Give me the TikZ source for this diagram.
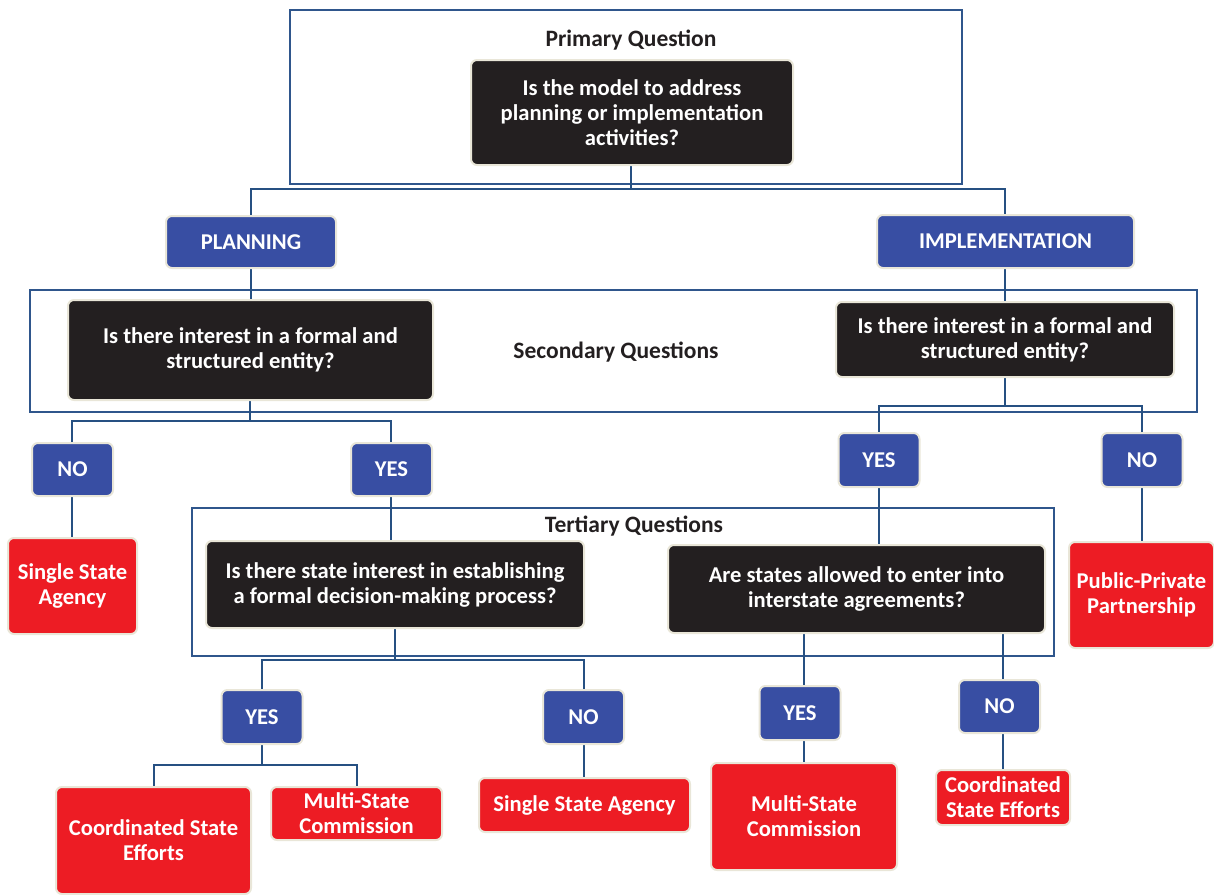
\documentclass[tikz,border=0pt]{standalone}
\usepackage{fontspec}
\setmainfont{Carlito}
\definecolor{qblack}{RGB}{35,31,32}
\definecolor{ablue}{RGB}{56,78,163}
\definecolor{rred}{RGB}{237,28,36}
\definecolor{edgec}{RGB}{233,230,216}
\definecolor{lineblue}{RGB}{38,80,130}
\definecolor{frameblue}{RGB}{47,86,140}
\begin{document}
\begin{tikzpicture}[x=1pt,y=-1pt,
  box/.style={rounded corners=6pt, draw=edgec, line width=2pt, text=white,
    font=\fontsize{22.6}{25}\selectfont\bfseries, align=center, inner sep=0pt},
  qbox/.style={box, fill=qblack},
  abox/.style={box, fill=ablue, minimum width=81pt, minimum height=54pt},
  rbox/.style={box, fill=rred},
  framebox/.style={draw=frameblue, line width=2pt, inner sep=0pt},
  lbl/.style={text=qblack, font=\fontsize{23.5}{25}\selectfont\bfseries, inner sep=0pt},
  conn/.style={draw=lineblue, line width=2.5pt}]
\useasboundingbox (0,0) rectangle (1214,894);

% frames
\node[framebox, minimum width=672pt, minimum height=174pt] (f1) at (626,97) {};
\node[framebox, minimum width=1167pt, minimum height=122pt] (f2) at (613.5,351) {};
\node[framebox, minimum width=862pt, minimum height=148pt] (f3) at (623,582) {};
\node[lbl] (l1) at (631,40) {Primary Question};
\node[lbl] (l2) at (616,352) {Secondary Questions};
\node[lbl] (l3) at (634,526) {Tertiary Questions};

% coordinates for junctions
\coordinate (j1) at (631,189);
\coordinate (j2) at (250,421);
\coordinate (j3) at (1005,406);
\coordinate (j4) at (395,660);
\coordinate (j5) at (262,765);

% connectors (drawn first; nodes cover ends)
\draw[conn] (631,165) -- (j1);
\draw[conn] (251,216) |- (j1) -| (1005,215);
\draw[conn] (251,268) -- (251,300);
\draw[conn] (1005,268) -- (1005,302);
\draw[conn] (250,400) -- (j2);
\draw[conn] (72,443) |- (j2) -| (391,443);
\draw[conn] (1005,377) -- (j3);
\draw[conn] (879,433) |- (j3) -| (1142,433);
\draw[conn] (72,496) -- (72,538);
\draw[conn] (391,496) -- (391,541);
\draw[conn] (879,487) -- (879,545);
\draw[conn] (1142,487) -- (1142,542);
\draw[conn] (395,628) -- (j4);
\draw[conn] (262,690) |- (j4) -| (584,690);
\draw[conn] (584,744) -- (584,778);
\draw[conn] (262,744) -- (j5);
\draw[conn] (154,787) |- (j5) -| (357,787);
\draw[conn] (804,633) -- (804,763);
\draw[conn] (1003,633) -- (1003,770);

% nodes
\node[qbox, minimum width=322pt, minimum height=105pt] (pq) at (632,112.5) {Is the model to address\\planning or implementation\\activities?};
\node[box, fill=ablue, minimum width=170pt, minimum height=52pt] (plan) at (251,242) {PLANNING};
\node[box, fill=ablue, minimum width=257pt, minimum height=53pt] (impl) at (1005.5,241.5) {IMPLEMENTATION};
\node[qbox, minimum width=365pt, minimum height=100pt] (sq1) at (250.5,350) {Is there interest in a formal and\\structured entity?};
\node[qbox, minimum width=338pt, minimum height=75pt] (sq2) at (1005,339.5) {Is there interest in a formal and\\structured entity?};
\node[abox, minimum height=53pt] (no1) at (72.5,469.5) {NO};
\node[abox, minimum height=53pt] (yes1) at (391.5,469.5) {YES};
\node[abox] (yes2) at (879,460) {YES};
\node[abox] (no2) at (1142,460) {NO};
\node[rbox, minimum width=129pt, minimum height=96pt] (ssa1) at (72.5,586) {Single State\\Agency};
\node[rbox, minimum width=145pt, minimum height=106pt] (ppp) at (1141.5,595) {Public-Private\\Partnership};
\node[qbox, minimum width=378pt, minimum height=87pt] (tq1) at (395,584.5) {Is there state interest in establishing\\a formal decision-making process?};
\node[qbox, minimum width=377pt, minimum height=88pt] (tq2) at (856.5,589) {Are states allowed to enter into\\interstate agreements?};
\node[abox] (yes3) at (262,717) {YES};
\node[abox] (no3) at (583.5,717) {NO};
\node[abox] (yes4) at (800,713) {YES};
\node[abox, minimum height=53pt] (no4) at (999.5,706.5) {NO};
\node[rbox, minimum width=195pt, minimum height=107pt] (ce1) at (153.5,840.5) {Coordinated State\\Efforts};
\node[rbox, minimum width=171pt, minimum height=53pt] (msc1) at (356.5,813.5) {Multi-State\\Commission};
\node[rbox, minimum width=211pt, minimum height=54pt] (ssa2) at (584.5,805) {Single State Agency};
\node[rbox, minimum width=186pt, minimum height=107pt] (msc2) at (804,816.5) {Multi-State\\Commission};
\node[rbox, minimum width=134pt, minimum height=55pt] (ce2) at (1003,797.5) {Coordinated\\State Efforts};
\end{tikzpicture}
\end{document}
